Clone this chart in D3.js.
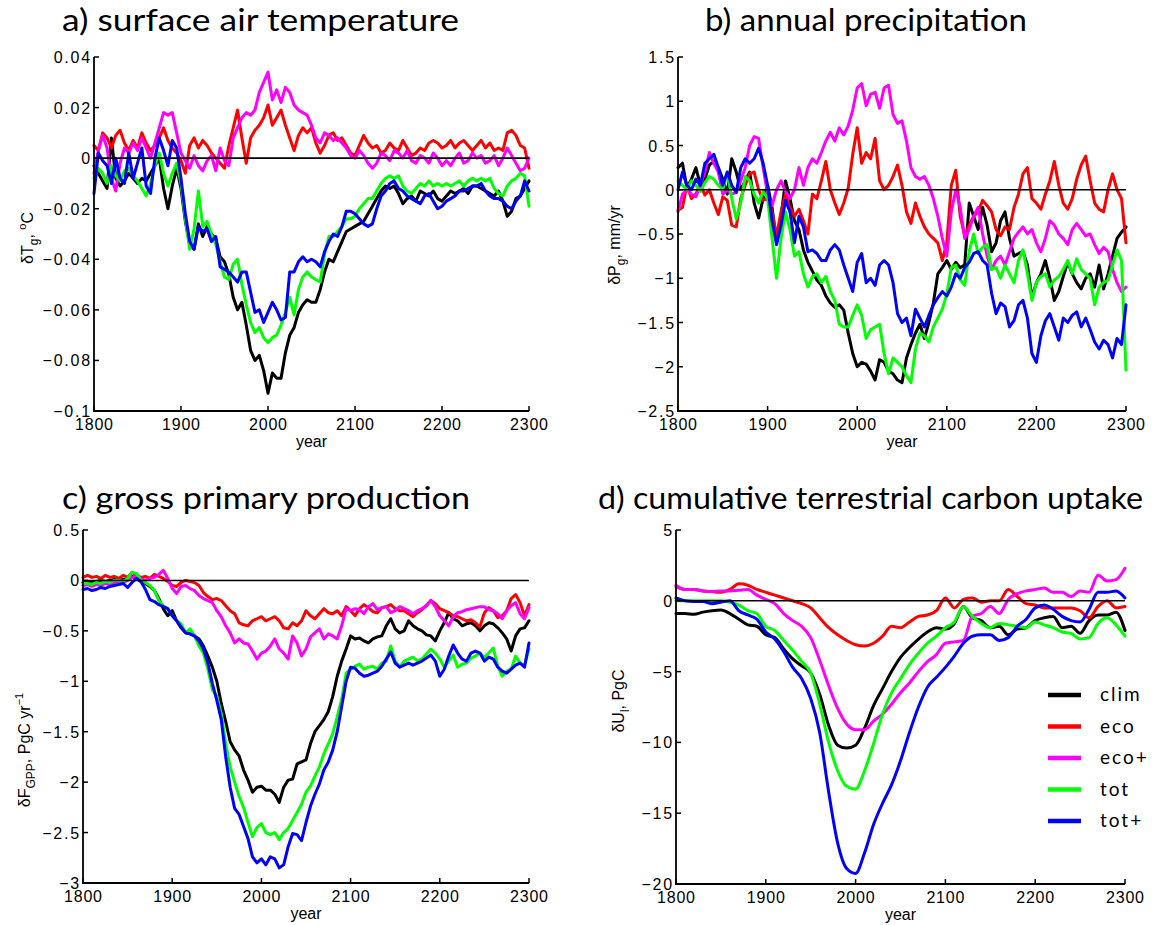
<!DOCTYPE html>
<html><head><meta charset="utf-8">
<script src="https://cdn.jsdelivr.net/npm/d3@7/dist/d3.min.js"></script>
<style>
body{margin:0;background:#fff;}
svg{display:block;}
.tick{font-family:"Liberation Sans",Arial,sans-serif;font-size:16px;fill:#000;}
.ytick{letter-spacing:1.8px;}
.xtick{letter-spacing:0.8px;}
.title{font-family:Lato,"Open Sans",sans-serif;font-size:30px;fill:#000;}
.leg{font-family:Lato,"Open Sans",sans-serif;font-size:19px;fill:#000;letter-spacing:2px;}
</style></head>
<body>
<script>
// ---------- DATA ----------
const seriesNames = ["clim","eco","eco+","tot","tot+"];
const seriesColors = ["#000000","#ff0000","#ff00ff","#00ff00","#0000ff"];
const yearStart = 1800, yearEnd = 2300;
const xTicks = [1800,1900,2000,2100,2200,2300];

// a) surface air temperature (5-yr steps 1800..2300)
const tempClim = [-0.003,-0.006,-0.009,-0.012,0.008,-0.008,-0.011,-0.009,-0.006,-0.008,-0.010,-0.008,-0.009,-0.006,-0.003,0.000,-0.012,-0.020,-0.011,-0.004,
-0.012,-0.025,-0.034,-0.036,-0.026,-0.031,-0.027,-0.030,-0.032,-0.039,-0.041,-0.046,-0.055,-0.060,-0.057,-0.066,-0.076,-0.080,-0.078,-0.084,
-0.093,-0.085,-0.087,-0.087,-0.077,-0.070,-0.067,-0.061,-0.058,-0.056,-0.057,-0.057,-0.052,-0.045,-0.040,-0.041,-0.037,-0.033,-0.029,-0.028,
-0.027,-0.026,-0.025,-0.022,-0.019,-0.016,-0.013,-0.011,-0.012,-0.011,-0.014,-0.018,-0.016,-0.015,-0.017,-0.013,-0.014,-0.015,-0.013,-0.016,
-0.017,-0.015,-0.013,-0.014,-0.013,-0.012,-0.014,-0.011,-0.011,-0.012,-0.013,-0.014,-0.015,-0.013,-0.017,-0.023,-0.021,-0.016,-0.015,-0.012,-0.009];
const tempEco = [0.005,0.003,0.010,0.008,0.004,0.009,0.011,0.006,0.003,0.007,0.004,0.010,0.006,0.003,0.005,0.008,0.012,0.007,0.004,0.002,
-0.001,-0.006,0.005,0.008,0.004,0.007,0.005,0.002,0.000,-0.002,-0.004,0.005,0.012,0.019,0.008,-0.002,0.008,0.011,0.013,0.016,
0.021,0.013,0.016,0.019,0.013,0.008,0.003,0.009,0.012,0.010,0.012,0.006,0.002,0.005,0.009,0.010,0.007,0.008,0.005,0.002,
0.001,0.005,0.009,0.006,0.004,0.005,0.002,0.003,0.006,0.004,0.003,0.007,0.004,0.001,0.002,0.004,0.003,0.006,0.007,0.006,
0.004,0.005,0.007,0.004,0.006,0.007,0.005,0.003,0.005,0.007,0.004,0.006,0.003,0.004,0.003,0.010,0.011,0.009,0.005,0.004,-0.004];
const tempEcoPlus = [-0.006,0.003,0.009,0.004,-0.008,-0.013,-0.002,0.004,0.002,0.006,0.003,0.008,0.004,0.000,0.006,0.012,0.018,0.017,0.018,0.010,
0.002,-0.001,-0.004,0.001,-0.003,-0.005,-0.001,0.001,-0.005,0.004,-0.001,-0.003,0.008,0.012,0.016,0.018,0.017,0.019,0.026,0.030,
0.034,0.023,0.027,0.022,0.028,0.026,0.021,0.019,0.018,0.017,0.013,0.008,0.006,0.010,0.009,0.007,0.008,0.006,0.004,0.001,
0.000,0.003,0.001,-0.002,-0.004,-0.002,0.002,0.001,-0.001,0.003,0.002,0.000,0.003,-0.001,-0.002,0.001,0.000,-0.002,0.002,0.000,
-0.003,-0.001,-0.003,0.000,0.002,-0.002,-0.001,0.002,0.000,0.001,-0.002,-0.001,0.001,-0.003,0.000,0.004,0.001,-0.002,-0.005,-0.004,0.000];
const tempTot = [-0.008,-0.004,-0.006,-0.010,-0.003,-0.007,-0.009,-0.005,-0.004,-0.007,-0.009,-0.012,-0.015,-0.010,-0.003,0.002,-0.006,-0.011,-0.006,-0.002,
-0.010,-0.024,-0.036,-0.028,-0.013,-0.027,-0.025,-0.030,-0.034,-0.041,-0.047,-0.048,-0.042,-0.040,-0.050,-0.058,-0.065,-0.069,-0.067,-0.071,
-0.073,-0.071,-0.070,-0.066,-0.061,-0.055,-0.062,-0.052,-0.047,-0.045,-0.047,-0.048,-0.049,-0.038,-0.031,-0.031,-0.029,-0.027,-0.024,-0.024,
-0.023,-0.020,-0.018,-0.016,-0.016,-0.013,-0.010,-0.008,-0.007,-0.008,-0.007,-0.011,-0.013,-0.014,-0.012,-0.010,-0.011,-0.009,-0.011,-0.010,
-0.011,-0.010,-0.011,-0.010,-0.009,-0.011,-0.009,-0.008,-0.009,-0.008,-0.009,-0.008,-0.012,-0.014,-0.015,-0.011,-0.009,-0.008,-0.006,-0.007,-0.019];
const tempTotPlus = [-0.014,0.002,-0.001,-0.003,-0.010,0.000,-0.008,-0.010,0.002,-0.008,-0.002,0.004,-0.011,-0.014,0.000,0.008,0.003,-0.003,0.007,0.004,
-0.008,-0.022,-0.033,-0.036,-0.027,-0.029,-0.028,-0.033,-0.031,-0.043,-0.044,-0.045,-0.047,-0.049,-0.045,-0.045,-0.053,-0.061,-0.060,-0.065,
-0.061,-0.057,-0.060,-0.064,-0.063,-0.045,-0.045,-0.041,-0.039,-0.041,-0.040,-0.041,-0.043,-0.037,-0.033,-0.030,-0.031,-0.027,-0.021,-0.021,
-0.022,-0.024,-0.026,-0.027,-0.026,-0.020,-0.015,-0.013,-0.010,-0.009,-0.012,-0.013,-0.015,-0.016,-0.017,-0.018,-0.015,-0.014,-0.017,-0.020,
-0.019,-0.017,-0.016,-0.015,-0.013,-0.013,-0.012,-0.011,-0.011,-0.010,-0.013,-0.015,-0.016,-0.016,-0.017,-0.019,-0.020,-0.017,-0.015,-0.009,-0.013];
const tempTicks = [0.04,0.02,0,-0.02,-0.04,-0.06,-0.08,-0.1];

// b) annual precipitation (5-yr steps)
const precClim = [0.25,0.30,0.02,0.12,0.25,0.05,0.12,0.28,0.32,0.25,0.12,-0.05,0.35,0.20,0.00,0.10,0.20,-0.15,-0.32,-0.10,
0.05,-0.20,-0.60,-0.30,0.10,-0.10,-0.35,-0.45,-0.68,-0.82,-0.92,-1.02,-1.08,-1.20,-1.28,-1.33,-1.30,-1.36,-1.62,-1.85,
-2.00,-1.95,-1.97,-2.05,-2.15,-1.92,-1.95,-2.05,-2.08,-2.15,-2.18,-1.90,-1.75,-1.62,-1.52,-1.68,-1.50,-1.28,-0.95,-0.88,
-0.80,-0.90,-0.82,-0.88,-0.85,-0.15,-0.30,-0.45,-0.20,-0.40,-0.70,-0.60,-0.35,-0.25,-0.55,-0.75,-0.72,-0.70,-0.85,-1.22,
-1.05,-0.95,-0.80,-1.00,-1.25,-1.15,-0.98,-0.82,-0.95,-1.05,-1.12,-1.00,-0.95,-1.10,-0.85,-1.12,-0.95,-0.75,-0.55,-0.48,-0.42];
const precEco = [-0.23,-0.20,0.05,-0.10,-0.05,0.06,-0.06,0.00,-0.15,-0.28,-0.08,-0.12,-0.40,-0.42,-0.10,0.05,0.18,0.20,0.00,-0.12,
-0.10,-0.25,-0.52,-0.25,-0.05,-0.20,-0.30,-0.22,-0.35,-0.50,-0.05,-0.10,0.10,0.32,0.00,-0.15,-0.28,-0.15,0.02,0.40,
0.70,0.30,0.42,0.35,0.58,0.10,0.00,0.05,0.15,0.28,0.05,-0.25,-0.38,-0.15,-0.30,-0.42,-0.50,-0.55,-0.60,-0.80,
-0.60,0.05,0.22,-0.30,-0.52,-0.40,-0.30,-0.25,-0.12,-0.18,-0.25,-0.45,-0.52,-0.42,-0.45,-0.20,-0.05,0.18,0.25,-0.10,
-0.15,-0.22,-0.05,0.10,0.32,0.05,-0.15,-0.22,-0.10,0.12,0.28,0.38,0.10,-0.15,-0.22,-0.25,0.00,0.18,0.00,-0.10,-0.60];
const precEcoPlus = [-0.25,-0.05,0.00,-0.05,-0.08,0.05,0.20,0.42,0.30,0.20,-0.05,0.00,-0.05,-0.03,0.10,0.25,0.50,0.60,0.58,0.25,
-0.05,-0.18,0.00,0.10,-0.02,-0.10,0.00,0.25,0.05,0.25,0.35,0.30,0.42,0.55,0.65,0.55,0.70,0.62,0.72,0.90,
1.15,1.20,0.95,1.08,1.10,0.92,1.15,1.18,0.85,0.75,0.78,0.55,0.25,0.15,0.12,0.15,0.05,-0.10,-0.30,-0.55,
-0.75,-0.25,0.00,-0.20,-0.55,-0.45,-0.30,-0.20,-0.50,-0.75,-0.90,-0.80,-0.75,-0.85,-0.70,-0.55,-0.48,-0.42,-0.50,-0.45,
-0.60,-0.70,-0.55,-0.35,-0.40,-0.50,-0.55,-0.62,-0.45,-0.38,-0.45,-0.52,-0.50,-0.62,-0.72,-0.65,-0.70,-0.90,-1.05,-1.15,-1.10];
const precTot = [0.10,0.05,0.00,0.10,0.05,-0.02,0.08,0.15,0.12,0.05,0.00,0.20,-0.10,-0.33,-0.15,0.15,0.10,-0.05,-0.15,-0.02,
-0.10,-0.55,-1.00,-0.55,-0.25,-0.45,-0.75,-0.70,-0.95,-1.10,-0.98,-0.95,-1.05,-0.98,-1.15,-1.25,-1.52,-1.55,-1.55,-1.42,
-1.30,-1.42,-1.68,-1.58,-1.55,-1.52,-1.85,-2.08,-1.90,-1.95,-2.00,-2.10,-2.18,-1.80,-1.62,-1.65,-1.72,-1.55,-1.45,-1.35,
-1.18,-0.88,-0.85,-1.02,-1.08,-0.70,-0.50,-0.72,-0.65,-0.62,-0.90,-0.88,-1.00,-0.85,-0.95,-1.05,-0.80,-0.68,-0.95,-1.25,
-1.05,-0.98,-0.95,-1.10,-1.02,-0.98,-0.90,-0.80,-0.95,-0.78,-0.90,-0.95,-1.00,-1.30,-1.10,-1.05,-1.02,-0.85,-0.68,-0.80,-2.04];
const precTotPlus = [0.00,0.20,0.05,0.00,0.12,0.05,0.30,0.35,0.40,0.25,0.05,0.20,0.05,-0.03,0.25,0.35,0.30,0.35,0.47,0.30,
0.05,-0.35,-0.62,-0.40,-0.12,-0.25,-0.60,-0.30,-0.42,-0.70,-0.68,-0.72,-0.80,-0.80,-0.68,-0.62,-0.68,-0.85,-1.00,-1.15,
-0.82,-0.72,-1.05,-1.00,-1.08,-0.85,-0.80,-0.85,-1.05,-1.40,-1.50,-1.45,-1.65,-1.35,-1.45,-1.55,-1.42,-1.30,-1.22,-1.15,
-1.20,-1.10,-0.95,-1.00,-0.88,-0.82,-0.72,-0.70,-0.80,-0.85,-1.17,-1.40,-1.28,-1.32,-1.55,-1.48,-1.30,-1.25,-1.45,-1.85,
-1.95,-1.65,-1.48,-1.40,-1.55,-1.70,-1.45,-1.50,-1.42,-1.38,-1.55,-1.45,-1.58,-1.72,-1.80,-1.70,-1.75,-1.90,-1.68,-1.75,-1.30];
const precTicks = [1.5,1,0.5,0,-0.5,-1,-1.5,-2,-2.5];

// c) gross primary production (5-yr steps)
const gppClim = [-0.02,-0.01,-0.02,-0.01,0.00,-0.01,0.00,0.01,0.00,0.01,0.01,0.04,0.02,-0.01,-0.03,-0.06,-0.10,-0.18,-0.28,-0.35,
-0.30,-0.40,-0.47,-0.52,-0.53,-0.55,-0.58,-0.65,-0.75,-0.86,-1.00,-1.22,-1.40,-1.60,-1.68,-1.74,-1.88,-1.98,-2.10,-2.05,
-2.04,-2.08,-2.08,-2.12,-2.20,-2.05,-1.98,-1.97,-1.82,-1.80,-1.78,-1.62,-1.50,-1.44,-1.38,-1.30,-1.15,-0.95,-0.80,-0.68,
-0.55,-0.58,-0.57,-0.60,-0.62,-0.58,-0.56,-0.55,-0.45,-0.38,-0.48,-0.52,-0.50,-0.40,-0.45,-0.48,-0.50,-0.54,-0.55,-0.60,
-0.50,-0.42,-0.32,-0.38,-0.40,-0.45,-0.43,-0.42,-0.45,-0.50,-0.45,-0.42,-0.43,-0.47,-0.52,-0.58,-0.70,-0.55,-0.48,-0.47,-0.40];
const gppEco = [0.03,0.05,0.03,0.04,0.02,0.05,0.03,0.04,0.02,0.05,0.03,0.08,0.05,0.03,0.04,0.02,0.06,0.04,0.02,-0.01,
-0.05,-0.06,-0.02,0.00,-0.01,-0.02,-0.05,-0.12,-0.16,-0.19,-0.18,-0.20,-0.25,-0.30,-0.33,-0.42,-0.44,-0.45,-0.40,-0.38,
-0.36,-0.40,-0.38,-0.36,-0.40,-0.47,-0.48,-0.42,-0.45,-0.40,-0.30,-0.35,-0.38,-0.33,-0.28,-0.32,-0.33,-0.30,-0.35,-0.26,
-0.30,-0.35,-0.28,-0.24,-0.27,-0.31,-0.32,-0.27,-0.26,-0.24,-0.28,-0.30,-0.30,-0.33,-0.36,-0.32,-0.29,-0.25,-0.20,-0.23,
-0.28,-0.30,-0.32,-0.35,-0.36,-0.38,-0.40,-0.39,-0.42,-0.46,-0.32,-0.27,-0.30,-0.37,-0.35,-0.30,-0.18,-0.14,-0.22,-0.35,-0.24];
const gppEcoPlus = [-0.05,-0.04,-0.06,-0.04,-0.05,-0.03,-0.04,-0.02,-0.01,-0.02,0.00,0.03,0.05,0.02,0.00,0.02,0.03,0.06,0.10,0.02,
-0.08,-0.13,-0.06,-0.05,-0.08,-0.10,-0.15,-0.18,-0.20,-0.22,-0.30,-0.36,-0.45,-0.52,-0.62,-0.58,-0.62,-0.63,-0.70,-0.78,
-0.72,-0.70,-0.65,-0.58,-0.68,-0.72,-0.78,-0.55,-0.62,-0.75,-0.68,-0.56,-0.52,-0.48,-0.58,-0.53,-0.55,-0.58,-0.45,-0.28,
-0.30,-0.28,-0.29,-0.33,-0.26,-0.23,-0.29,-0.27,-0.26,-0.32,-0.30,-0.26,-0.28,-0.30,-0.33,-0.30,-0.28,-0.25,-0.20,-0.26,
-0.35,-0.40,-0.45,-0.36,-0.32,-0.31,-0.29,-0.28,-0.27,-0.26,-0.26,-0.29,-0.30,-0.33,-0.38,-0.30,-0.25,-0.22,-0.33,-0.38,-0.27];
const gppTot = [-0.03,-0.03,-0.04,-0.02,-0.03,-0.01,-0.02,0.00,0.00,-0.01,0.02,0.08,0.07,0.00,-0.02,-0.05,-0.10,-0.20,-0.25,-0.28,
-0.35,-0.40,-0.43,-0.52,-0.48,-0.55,-0.65,-0.72,-0.88,-1.08,-1.15,-1.32,-1.62,-1.85,-2.00,-2.14,-2.25,-2.40,-2.54,-2.45,
-2.41,-2.50,-2.52,-2.50,-2.57,-2.50,-2.46,-2.38,-2.30,-2.22,-2.10,-2.04,-1.94,-1.85,-1.72,-1.62,-1.52,-1.35,-1.18,-0.92,
-0.88,-0.85,-0.83,-0.88,-0.86,-0.85,-0.88,-0.82,-0.80,-0.65,-0.80,-0.86,-0.80,-0.78,-0.76,-0.80,-0.78,-0.73,-0.68,-0.72,
-0.78,-0.86,-0.80,-0.74,-0.86,-0.83,-0.82,-0.77,-0.75,-0.72,-0.76,-0.72,-0.67,-0.85,-0.95,-0.90,-0.88,-0.75,-0.82,-0.84,-0.68];
const gppTotPlus = [-0.09,-0.08,-0.10,-0.09,-0.07,-0.08,-0.06,-0.05,-0.04,-0.03,-0.07,-0.02,0.02,-0.01,-0.09,-0.19,-0.21,-0.24,-0.26,-0.28,
-0.35,-0.40,-0.46,-0.52,-0.53,-0.55,-0.60,-0.68,-0.82,-1.02,-1.19,-1.38,-1.75,-2.05,-2.26,-2.32,-2.44,-2.56,-2.74,-2.80,
-2.76,-2.82,-2.74,-2.76,-2.85,-2.82,-2.64,-2.51,-2.52,-2.58,-2.40,-2.24,-2.12,-2.02,-1.88,-1.80,-1.68,-1.50,-1.25,-1.00,
-0.86,-0.87,-0.92,-0.95,-0.94,-0.92,-0.90,-0.85,-0.78,-0.71,-0.82,-0.86,-0.84,-0.82,-0.84,-0.82,-0.80,-0.77,-0.74,-0.80,
-0.95,-0.88,-0.75,-0.64,-0.72,-0.78,-0.80,-0.72,-0.70,-0.72,-0.80,-0.76,-0.78,-0.86,-0.90,-0.92,-0.88,-0.84,-0.82,-0.86,-0.62];
const gppTicks = [0.5,0,-0.5,-1,-1.5,-2,-2.5,-3];

// d) cumulative terrestrial carbon uptake (10-yr steps)
const uptClim = [-0.9,-0.9,-0.95,-0.8,-0.7,-0.65,-0.9,-1.3,-1.7,-1.8,-2.4,-2.6,-3.4,-4.1,-4.6,-5.1,-6.6,-8.8,-10.2,-10.4,
-10.2,-9.0,-7.4,-6.2,-5.0,-4.0,-3.3,-2.7,-2.2,-1.9,-2.0,-1.6,-0.4,-1.2,-1.4,-1.9,-1.8,-2.4,-2.0,-1.9,
-1.4,-1.2,-1.1,-1.9,-1.8,-2.3,-1.4,-1.0,-1.0,-0.8,-2.1];
const uptEco = [1.0,0.8,0.8,0.7,0.65,0.6,0.8,1.2,1.1,0.8,0.6,0.4,0.2,0.0,-0.2,-0.5,-1.2,-1.9,-2.4,-2.8,
-3.1,-3.2,-3.0,-2.5,-1.8,-1.9,-1.5,-1.1,-1.0,-0.7,0.2,-0.5,0.1,0.2,-0.1,0.0,0.0,0.8,0.3,-0.2,
-0.3,-0.5,-0.5,-0.5,-0.5,-0.7,-1.2,-0.4,0.0,-0.5,-0.4];
const uptEcoPlus = [1.1,0.8,0.8,0.7,0.65,0.7,0.7,0.75,0.8,0.4,0.1,-0.2,-0.9,-1.4,-1.8,-2.6,-4.2,-6.0,-7.6,-8.7,
-9.1,-9.1,-8.5,-8.0,-7.3,-6.5,-5.8,-5.0,-4.3,-3.8,-3.0,-2.9,-2.8,-1.1,-0.9,-0.4,-0.9,0.1,0.5,0.7,
0.8,0.9,0.6,0.6,0.3,0.7,0.6,1.8,1.4,1.5,2.3];
const uptTot = [0.0,0.0,0.0,0.0,0.0,0.0,-0.1,-0.3,-0.7,-0.9,-1.8,-2.1,-2.8,-3.5,-4.3,-5.1,-7.3,-10.0,-12.0,-13.1,
-13.3,-12.0,-10.1,-8.0,-6.5,-5.5,-4.5,-3.7,-3.0,-2.5,-1.9,-1.5,-0.4,-1.1,-1.6,-1.9,-1.6,-1.7,-1.8,-1.9,
-1.5,-1.7,-1.9,-2.2,-2.3,-2.7,-2.6,-1.6,-1.2,-1.7,-2.5];
const uptTotPlus = [0.2,0.0,-0.05,-0.05,-0.2,-0.1,0.0,-0.7,-1.0,-1.3,-2.2,-2.7,-3.6,-4.7,-5.5,-6.9,-9.3,-13.5,-17.1,-18.9,
-19.25,-17.8,-15.8,-14.3,-13.0,-11.3,-9.3,-7.5,-6.1,-5.4,-4.7,-3.9,-3.0,-2.5,-2.4,-2.4,-2.8,-2.6,-1.8,-1.3,
-0.5,-0.3,-0.6,-1.1,-1.4,-1.5,-0.6,0.6,0.6,0.7,0.2];
const uptTicks = [5,0,-5,-10,-15,-20];

// ---------- DRAW ----------
const W = 1161, H = 925;
const svg = d3.select("body").append("svg").attr("width", W).attr("height", H);
const fmt = v => String(v).replace("-", "\u2212");

function panel(cfg){
  const xs = d3.scaleLinear().domain([yearStart, yearEnd]).range([cfg.x0, cfg.x1]);
  const ys = d3.scaleLinear().domain(cfg.domain).range([cfg.y1, cfg.y0]);
  const g = svg.append("g");
  cfg.series.forEach((arr, k) => {
    const step = (yearEnd - yearStart) / (arr.length - 1);
    const line = d3.line().x((d, i) => xs(yearStart + i * step)).y(d => ys(d));
    if (cfg.smooth) line.curve(d3.curveMonotoneX);
    g.append("path").datum(arr).attr("d", line)
      .attr("fill", "none").attr("stroke", seriesColors[k])
      .attr("stroke-width", 3).attr("stroke-linejoin", "round").attr("stroke-linecap", "round");
  });
  // zero line
  g.append("line").attr("x1", xs(yearStart)).attr("x2", xs(yearEnd))
    .attr("y1", ys(0)).attr("y2", ys(0)).attr("stroke", "#000").attr("stroke-width", 1.6);
  // axes
  const ax = g.append("g");
  ax.append("line").attr("x1", cfg.x0).attr("x2", cfg.x0).attr("y1", ys(cfg.domain[1])).attr("y2", cfg.y1 + 1)
    .attr("stroke", "#000").attr("stroke-width", 1.8);
  ax.append("line").attr("x1", cfg.x0 - 1).attr("x2", cfg.x1).attr("y1", cfg.y1).attr("y2", cfg.y1)
    .attr("stroke", "#000").attr("stroke-width", 1.8);
  cfg.ticks.forEach(t => {
    ax.append("line").attr("x1", cfg.x0).attr("x2", cfg.x0 + 5).attr("y1", ys(t)).attr("y2", ys(t))
      .attr("stroke", "#000").attr("stroke-width", 1.5);
    ax.append("text").attr("class", "tick ytick").attr("x", cfg.x0 - 2).attr("y", ys(t) + 6)
      .attr("text-anchor", "end").text(fmt(t));
  });
  xTicks.forEach(t => {
    ax.append("line").attr("x1", xs(t)).attr("x2", xs(t)).attr("y1", cfg.y1).attr("y2", cfg.y1 - 5)
      .attr("stroke", "#000").attr("stroke-width", 1.5);
    ax.append("text").attr("class", "tick xtick").attr("x", xs(t) + 0.4).attr("y", cfg.y1 + 19)
      .attr("text-anchor", "middle").text(t);
  });
  ax.append("text").attr("class", "tick").attr("x", (cfg.x0 + cfg.x1) / 2).attr("y", cfg.y1 + 36)
    .attr("text-anchor", "middle").attr("font-size", 16).text("year");
  // title
  svg.append("text").attr("class", "title").attr("x", cfg.tx).attr("y", cfg.ty)
    .attr("textLength", cfg.tw).attr("lengthAdjust", "spacingAndGlyphs").text(cfg.title);
  // y label
  const yl = svg.append("text").attr("class", "tick")
    .attr("transform", `translate(${cfg.lx},${cfg.ly}) rotate(-90)`).attr("text-anchor", "middle");
  cfg.ylabel.forEach(p => {
    const ts = yl.append("tspan").text(p.t);
    if (p.dy) ts.attr("dy", p.dy);
    if (p.fs) ts.attr("font-size", p.fs);
  });
}

panel({x0:94, x1:529, y0:57, y1:411, domain:[-0.1,0.04], ticks:tempTicks,
  series:[tempClim,tempEco,tempEcoPlus,tempTot,tempTotPlus],
  title:"a) surface air temperature", tx:62, ty:31, tw:397,
  lx:33, ly:238,
  ylabel:[{t:"\u03b4T"},{t:"g",dy:5,fs:12},{t:", ",dy:-5},{t:"o",dy:-7,fs:11},{t:"C",dy:7}]});

panel({x0:678, x1:1126, y0:57, y1:411, domain:[-2.5,1.5], ticks:precTicks,
  series:[precClim,precEco,precEcoPlus,precTot,precTotPlus],
  title:"b) annual precipitation", tx:705, ty:31, tw:322,
  lx:620, ly:245,
  ylabel:[{t:"\u03b4P"},{t:"g",dy:5,fs:12},{t:", mm/yr",dy:-5}]});

panel({x0:83, x1:529, y0:530, y1:883, domain:[-3,0.5], ticks:gppTicks,
  series:[gppClim,gppEco,gppEcoPlus,gppTot,gppTotPlus],
  title:"c) gross primary production", tx:62, ty:509, tw:408,
  lx:30, ly:750,
  ylabel:[{t:"\u03b4F"},{t:"GPP",dy:5,fs:12},{t:", PgC yr",dy:-5},{t:"\u22121",dy:-7,fs:11}]});

panel({x0:676, x1:1125, y0:530, y1:884, domain:[-20,5], ticks:uptTicks, smooth:true,
  series:[uptClim,uptEco,uptEcoPlus,uptTot,uptTotPlus],
  title:"d) cumulative terrestrial carbon uptake", tx:598, ty:509, tw:545,
  lx:624, ly:701,
  ylabel:[{t:"\u03b4U"},{t:"l",dy:5,fs:12},{t:", PgC",dy:-5}]});

// legend (panel d)
const legY0 = 695, legDy = 31.5;
seriesNames.forEach((n, k) => {
  const y = legY0 + k * legDy;
  svg.append("line").attr("x1", 1048).attr("x2", 1081).attr("y1", y).attr("y2", y)
    .attr("stroke", seriesColors[k]).attr("stroke-width", 4.5);
  svg.append("text").attr("class", "leg").attr("x", 1100).attr("y", y + 6).text(n);
});
</script>
</body></html>
